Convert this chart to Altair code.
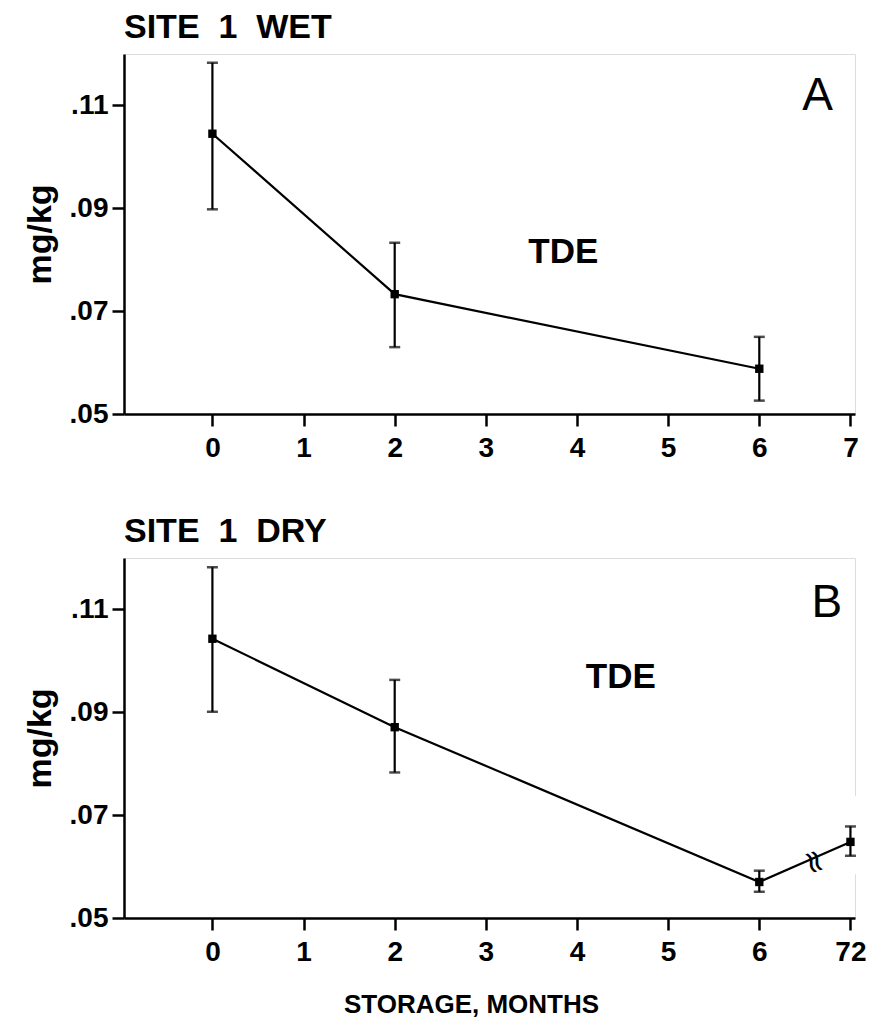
import altair as alt
import pandas as pd

FONT = "Liberation Sans"
NB = "\u00a0"

# Panel A: SITE 1 WET
months_a = [0, 2, 6]
mean_a = [0.1045, 0.0733, 0.0588]
low_a = [0.0898, 0.0630, 0.0526]
high_a = [0.1183, 0.0833, 0.0650]

# Panel B: SITE 1 DRY (72 months drawn at axis position 7, broken axis)
months_b = ["0", "2", "6", "72"]
axis_pos_b = [0, 2, 6, 7]
mean_b = [0.1043, 0.0871, 0.0570, 0.0648]
low_b = [0.0901, 0.0783, 0.0551, 0.0621]
high_b = [0.1182, 0.0963, 0.0592, 0.0678]

y_ticks = [0.05, 0.07, 0.09, 0.11]
x_ticks = [0, 1, 2, 3, 4, 5, 6, 7]

W, H = 731, 360

df_a = pd.DataFrame({"x": months_a, "y": mean_a, "lo": low_a, "hi": high_a})
df_b = pd.DataFrame({"x": axis_pos_b, "label": months_b, "y": mean_b, "lo": low_b, "hi": high_b})

yscale = alt.Scale(domain=[0.05, 0.12], nice=False, zero=False)
xscale = alt.Scale(domain=[-0.97, 7.05], nice=False, zero=False)


def yaxis():
    return alt.Axis(values=y_ticks, labelExpr="replace(format(datum.value, '.2f'), '0.', '.')",
                    grid=False, tickSize=12, tickWidth=2.5, tickColor="black",
                    domainColor="black", domainWidth=2.5, labelFont=FONT, labelFontSize=28,
                    labelFontWeight="bold", labelColor="black", labelPadding=4,
                    title="mg/kg", titleFont=FONT, titleFontSize=34, titleFontWeight="bold",
                    titleColor="black", titlePadding=12)


def xaxis(label_expr=None, title=None):
    kw = dict(values=x_ticks, grid=False, tickSize=12, tickWidth=2.5, tickColor="black",
              domainColor="black", domainWidth=2.5, labelFont=FONT, labelFontSize=28,
              labelFontWeight="bold", labelColor="black", labelPadding=8, format="d")
    if label_expr:
        kw["labelExpr"] = label_expr
    if title:
        kw.update(title=title, titleFont=FONT, titleFontSize=26, titleFontWeight="bold",
                  titleColor="black", titlePadding=25, titleX=347, titleAlign="center")
    else:
        kw["title"] = None
    return alt.Axis(**kw)


def panel(df, title, letter, letter_x, letter_y, tde_x, tde_y, xax, extra=None):
    base = alt.Chart(df)
    line = base.mark_line(color="black", strokeWidth=2.2).encode(
        x=alt.X("x:Q", scale=xscale, axis=xax),
        y=alt.Y("y:Q", scale=yscale, axis=yaxis()))
    err = base.mark_rule(color="black", strokeWidth=2.2).encode(
        x="x:Q", y="lo:Q", y2="hi:Q")
    cap_hi = base.mark_tick(color="black", orient="horizontal", size=11, thickness=2.5).encode(
        x="x:Q", y="hi:Q")
    cap_lo = base.mark_tick(color="black", orient="horizontal", size=11, thickness=2.5).encode(
        x="x:Q", y="lo:Q")
    pts = base.mark_square(color="black", filled=True, size=70, opacity=1).encode(
        x="x:Q", y="y:Q")
    lab = pd.DataFrame({"x": [letter_x, tde_x], "y": [letter_y, tde_y], "t": [letter, "TDE"]})
    txt_letter = alt.Chart(lab.iloc[[0]]).mark_text(font=FONT, fontSize=46, color="black",
                                                    align="center", baseline="alphabetic").encode(
        x="x:Q", y="y:Q", text="t:N")
    txt_tde = alt.Chart(lab.iloc[[1]]).mark_text(font=FONT, fontSize=35, fontWeight="bold",
                                                 color="black", align="center",
                                                 baseline="alphabetic").encode(
        x="x:Q", y="y:Q", text="t:N")
    layers = [line] + (extra or []) + [err, cap_hi, cap_lo, pts, txt_letter, txt_tde]
    return alt.layer(*layers).properties(
        width=W, height=H,
        title=alt.TitleParams(title, anchor="start", frame="group", font=FONT, fontSize=34,
                              fontWeight="bold", color="black", offset=9))


chart_a = panel(df_a, f"SITE{NB}{NB}1{NB}{NB}WET", "A", 6.64, 0.1092, 3.85, 0.0793, xaxis())

# broken right frame around the 72-month point and break marks on the line
gap = pd.DataFrame({"x": [7.05], "lo": [0.0585], "hi": [0.0737]})
gap_rule = alt.Chart(gap).mark_rule(color="white", strokeWidth=6).encode(
    x="x:Q", y="lo:Q", y2="hi:Q")
brk = pd.DataFrame({"x": [6.6], "y": [0.0609], "t": ["≈"]})
brk_mark = alt.Chart(brk).mark_text(font="DejaVu Sans", fontSize=32, color="black", angle=70,
                                    align="center", baseline="middle").encode(
    x="x:Q", y="y:Q", text="t:N")

chart_b = panel(df_b, f"SITE{NB}{NB}1{NB}{NB}DRY", "B", 6.74, 0.1086, 4.48, 0.0947,
                xaxis(label_expr="datum.value == 7 ? '72' : datum.label",
                      title="STORAGE, MONTHS"),
                extra=[gap_rule, brk_mark])

chart = alt.vconcat(chart_a, chart_b, spacing=51).properties(
    padding={"left": 14, "top": 2, "right": 0, "bottom": 5}
).configure_view(stroke="black", strokeWidth=2.2).configure(background="white")

chart.save("out.html", embed_options={"renderer": "svg", "actions": False})
